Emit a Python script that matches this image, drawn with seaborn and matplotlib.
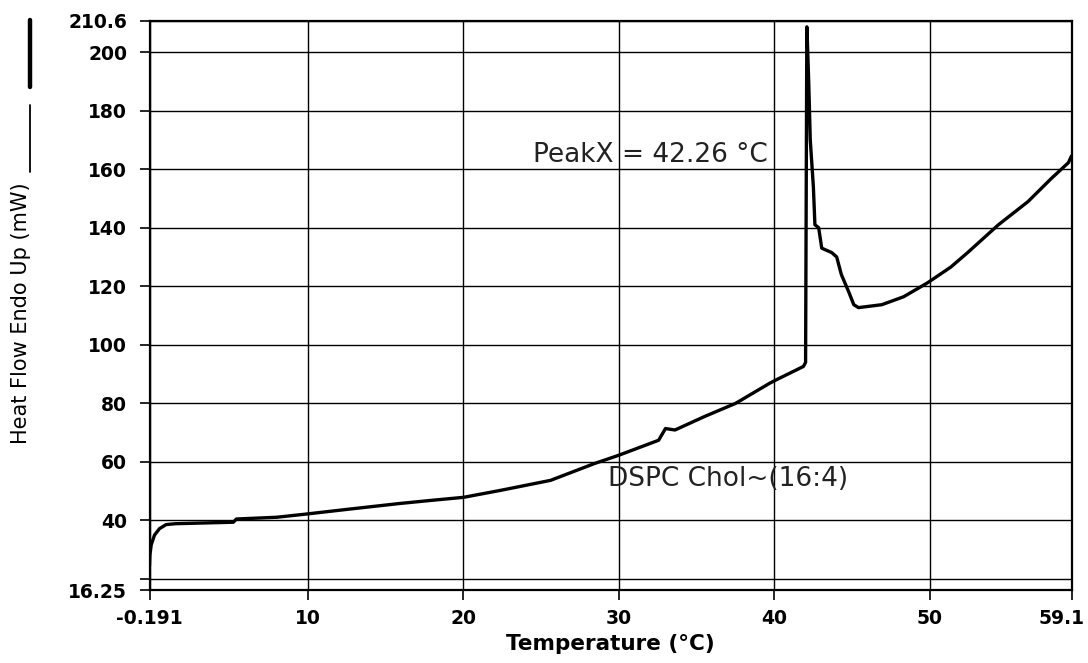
import matplotlib
matplotlib.use("Agg")
import matplotlib.pyplot as plt
import matplotlib.transforms as mtransforms
import seaborn as sns
import pandas as pd
from matplotlib.lines import Line2D

# ---- data ----
temperature = [-0.191, -0.17, -0.08, 0.13, 0.45, 0.88, 1.5, 3.0, 5.2, 5.4,
               8.0, 9.9, 12.7, 15.9, 18.0, 20.0, 22.4, 25.6, 28.4, 30.0,
               32.55, 32.99, 33.6, 35.5, 37.5, 39.7, 40.1, 41.86, 42.0, 42.08,
               42.12, 42.2, 42.3, 42.4, 42.5, 42.6, 42.84, 43.04, 43.68, 44.0,
               44.3, 44.78, 45.1, 45.4, 46.9, 48.3, 49.85, 51.35, 52.4, 54.4,
               56.3, 57.8, 58.9, 59.1]
heat_flow = [24.6, 28.0, 31.7, 35.0, 37.2, 38.6, 38.9, 39.1, 39.4, 40.5,
             41.1, 42.2, 43.9, 45.8, 46.9, 47.9, 50.3, 53.7, 59.4, 62.3,
             67.4, 71.4, 70.9, 75.5, 80.0, 86.9, 88.0, 92.6, 94.0, 208.6,
             203.0, 190.0, 170.0, 162.0, 154.0, 141.0, 140.0, 133.0, 131.5, 130.0,
             124.0, 118.0, 113.7, 112.7, 113.7, 116.4, 121.2, 126.6, 131.4, 141.0,
             148.9, 156.8, 162.2, 164.5]

x_ticks = [-0.191, 10, 20, 30, 40, 50, 59.1]
x_tick_labels = ["-0.191", "10", "20", "30", "40", "50", "59.1"]
y_ticks = [16.25, 20, 40, 60, 80, 100, 120, 140, 160, 180, 200, 210.6]
y_tick_labels = ["16.25", "", "40", "60", "80", "100", "120", "140", "160",
                 "180", "200", "210.6"]

x_label = "Temperature (°C)"
y_label = "Heat Flow Endo Up (mW)"
peak_text = "PeakX = 42.26 °C"
sample_text = "DSPC Chol~(16:4)"

# ---- styling ----
sns.set_theme(style="white")
plt.rcParams["font.family"] = ["DejaVu Sans"]

fig = plt.figure(figsize=(10.88, 6.63), dpi=100)
ax = fig.add_axes([149.5 / 1088, 1 - 590 / 663, 922 / 1088, 569 / 663])

df = pd.DataFrame({"Temperature": temperature, "HeatFlow": heat_flow})
sns.lineplot(data=df, x="Temperature", y="HeatFlow", sort=False,
             estimator=None, color="black", lw=2.4, ax=ax)

ax.set_xlim(x_ticks[0], x_ticks[-1])
ax.set_ylim(y_ticks[0], y_ticks[-1])
ax.set_xticks(x_ticks)
ax.set_xticklabels(x_tick_labels, fontweight="bold")
ax.set_yticks(y_ticks)
ax.set_yticklabels(y_tick_labels, fontweight="bold")

ax.grid(True, color="black", lw=1.0)
for s in ax.spines.values():
    s.set_color("black")
    s.set_linewidth(1.6)

ax.tick_params(axis="both", which="major", direction="out", length=7,
               width=1.2, color="black", labelcolor="black", labelsize=13.5,
               bottom=True, left=True)
ax.tick_params(axis="y", pad=9)
ax.tick_params(axis="x", pad=7)

# shift the last x tick label slightly left so it stays inside the figure
last = ax.get_xticklabels()[-1]
last.set_transform(last.get_transform() +
                   mtransforms.ScaledTranslation(-10 / 100, 0, fig.dpi_scale_trans))

ax.set_xlabel(x_label, fontsize=15.5, color="black", labelpad=4,
              fontweight="bold")
ax.set_ylabel(y_label, fontsize=15, color="black")
ax.yaxis.set_label_coords((31 - 149.5) / 922, (590 - 313) / 569)

ax.text(24.44, 165, peak_text, fontsize=19, color="#222222",
        ha="left", va="center")
ax.text(29.3, 54.2, sample_text, fontsize=19, color="#222222",
        ha="left", va="center")

# legend-like marks next to the rotated y label
fig.add_artist(Line2D([30 / 1088, 30 / 1088], [1 - 105 / 663, 1 - 172 / 663],
                      transform=fig.transFigure, color="black", lw=1.3))
fig.add_artist(Line2D([30 / 1088, 30 / 1088], [1 - 20 / 663, 1 - 87 / 663],
                      transform=fig.transFigure, color="black", lw=3.2))

fig.savefig("out.png", dpi=100, facecolor="white")
